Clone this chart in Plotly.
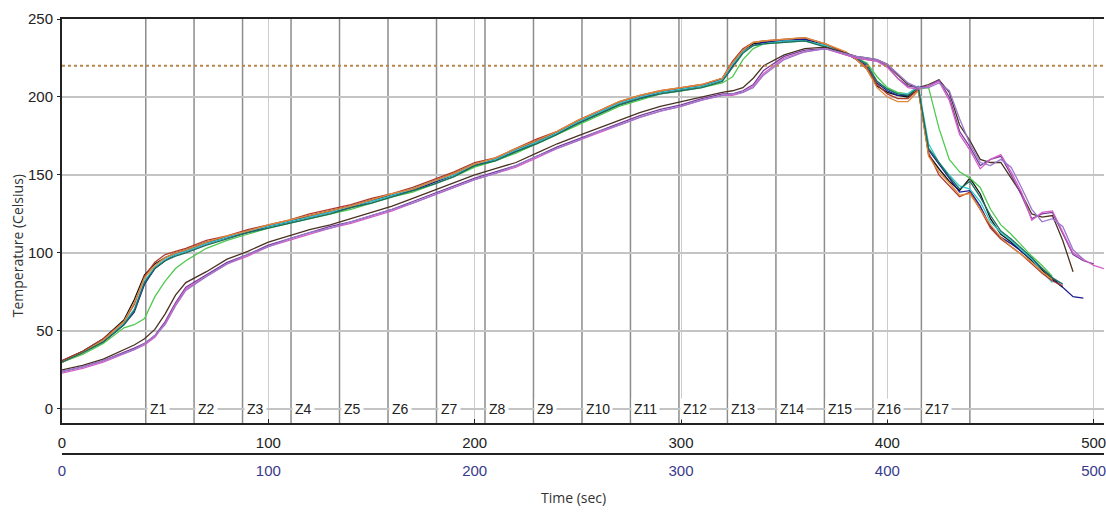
import plotly.graph_objects as go

# ---------------- data ----------------
time_s = [0, 10, 20, 30, 35, 40, 45, 50, 55, 60, 70, 80, 90, 100, 110, 120, 130, 140, 150, 160,
          170, 180, 190, 200, 210, 220, 230, 240, 250, 260, 270, 280, 290, 300, 310, 320, 325, 330,
          335, 340, 350, 360, 370, 380, 385, 390, 395, 400, 405, 410, 415, 420, 425, 430, 435, 440,
          445, 450, 455, 460, 465, 470, 475, 480, 485, 490, 495, 500, 505]

tc_black = [31, 37, 45, 57, 70, 86, 93, 97, 100, 102, 107, 110, 114, 117, 120, 124, 127, 130, 134, 137,
            141, 146, 151, 157, 160, 166, 172, 177, 184, 190, 196, 200, 203, 205, 207, 212, 222, 230,
            234, 235, 236, 237, 233, 228, 224, 218, 207, 203, 201, 200, 205, 163, 154, 146, 140, 148,
            138, 122, 112, 107, 101, 95, 89, 83, 78, None, None, None, None]
tc_navy = [30, 36, 43, 54, 62, 80, 90, 95, 99, 101, 106, 110, 113, 117, 120, 123, 126, 129, 133, 137,
           140, 145, 150, 156, 160, 165, 171, 177, 183, 189, 195, 199, 203, 205, 207, 211, 220, 229,
           233, 235, 236, 237, 233, 228, 225, 220, 209, 204, 201, 201, 206, 166, 157, 148, 139, 140,
           130, 117, 110, 106, 101, 96, 90, 84, 78, 72, 71, None, None]
tc_green = [30, 35, 42, 52, 54, 58, 72, 82, 90, 95, 103, 108, 112, 116, 119, 122, 125, 128, 132, 136,
            139, 144, 149, 155, 159, 164, 170, 176, 182, 188, 194, 198, 202, 204, 206, 209, 213, 224,
            231, 234, 235, 236, 233, 228, 225, 222, 213, 206, 203, 202, 205, 206, 180, 160, 152, 148,
            142, 128, 118, 112, 105, 98, 92, 85, None, None, None, None, None]
tc_cyan = [30, 36, 44, 55, 64, 82, 91, 96, 99, 101, 106, 110, 114, 117, 120, 123, 126, 130, 133, 137,
           141, 146, 150, 157, 160, 166, 171, 177, 184, 190, 196, 200, 203, 205, 207, 211, 221, 229,
           233, 234, 236, 236, 233, 228, 225, 221, 210, 205, 202, 202, 207, 170, 158, 150, 143, 141,
           133, 120, 113, 108, 102, 96, 88, 81, None, None, None, None, None]
tc_red = [31, 37, 45, 56, 67, 85, 94, 99, 101, 103, 108, 111, 115, 118, 121, 125, 128, 131, 135, 138,
          142, 147, 152, 158, 161, 167, 173, 178, 185, 191, 197, 201, 204, 206, 208, 212, 223, 231,
          235, 236, 237, 238, 234, 228, 224, 219, 208, 202, 199, 199, 205, 164, 150, 143, 136, 139,
          128, 116, 109, 104, 99, 93, 87, 82, 79, None, None, None, None]
tc_orange = [30, 36, 44, 56, 68, 84, 92, 97, 100, 102, 107, 111, 114, 118, 121, 124, 127, 130, 134, 138,
             141, 146, 151, 157, 161, 167, 172, 178, 185, 191, 197, 201, 204, 206, 208, 212, 222, 230,
             235, 236, 237, 238, 234, 229, 224, 218, 206, 200, 197, 197, 204, 162, 152, 145, 137, 138,
             128, 118, 110, 104, 99, 94, 88, 83, None, None, None, None, None]
tc_teal = [30, 36, 43, 54, 63, 81, 90, 95, 98, 100, 105, 109, 113, 116, 119, 122, 125, 129, 132, 136,
           140, 144, 149, 156, 159, 165, 170, 176, 183, 189, 195, 199, 202, 204, 206, 210, 219, 228,
           233, 234, 235, 236, 232, 228, 225, 221, 210, 205, 202, 201, 206, 167, 158, 149, 141, 146,
           136, 124, 114, 109, 103, 97, 90, 84, 80, None, None, None, None]
tc_brown = [25, 28, 32, 38, 41, 45, 51, 61, 73, 81, 88, 96, 101, 107, 111, 115, 118, 122, 126, 130,
            135, 140, 145, 150, 154, 158, 164, 170, 175, 180, 185, 190, 194, 197, 200, 203, 204, 206,
            212, 220, 227, 231, 232, 228, 226, 225, 224, 221, 214, 208, 206, 208, 211, 203, 182, 172,
            160, 158, 158, 148, 138, 125, 123, 124, 108, 88, None, None, None]
tc_purple = [24, 27, 31, 36, 39, 42, 47, 56, 68, 78, 86, 94, 99, 105, 109, 113, 117, 120, 124, 128,
             133, 138, 143, 148, 152, 156, 162, 168, 173, 178, 183, 188, 192, 195, 199, 202, 202, 204,
             208, 217, 226, 230, 231, 227, 225, 224, 223, 220, 212, 207, 206, 207, 211, 200, 178, 168,
             156, 160, 162, 150, 137, 122, 125, 126, 112, 99, 95, 93, None]
tc_magenta = [23, 26, 30, 35, 38, 41, 46, 55, 67, 77, 85, 93, 98, 104, 108, 112, 116, 119, 123, 127,
              132, 137, 142, 147, 151, 155, 161, 167, 172, 177, 182, 187, 191, 194, 198, 201, 201, 203,
              207, 215, 225, 229, 231, 227, 225, 224, 223, 219, 212, 206, 205, 207, 210, 198, 176, 166,
              154, 160, 163, 152, 139, 121, 126, 127, 114, 100, 96, 92, 90]
tc_violet = [24, 27, 31, 36, 38, 42, 47, 54, 66, 76, 85, 93, 99, 104, 109, 113, 116, 120, 124, 128,
             132, 137, 142, 147, 151, 156, 162, 167, 172, 178, 182, 187, 191, 194, 198, 201, 202, 203,
             206, 214, 224, 229, 231, 228, 226, 225, 224, 221, 215, 209, 206, 206, 209, 204, 186, 170,
             158, 156, 160, 155, 142, 128, 120, 122, 117, 102, 96, None, None]

series = [
    ("TC1", tc_black, "#111111"),
    ("TC2", tc_navy, "#1c1c8f"),
    ("TC3", tc_green, "#4fc94f"),
    ("TC4", tc_cyan, "#36c8d0"),
    ("TC5", tc_red, "#b0392c"),
    ("TC6", tc_orange, "#e0883a"),
    ("TC7", tc_teal, "#1d6e5c"),
    ("TC8", tc_brown, "#4a3222"),
    ("TC9", tc_purple, "#7a3f9c"),
    ("TC10", tc_magenta, "#d35fc6"),
    ("TC11", tc_violet, "#9c78cc"),
]

zone_bounds = [40.6, 64.0, 87.5, 111.0, 134.5, 158.0, 181.5, 205.0, 228.5, 252.0,
               275.5, 299.0, 322.5, 346.0, 369.5, 393.0, 416.5, 440.0]
zone_labels = ["Z1", "Z2", "Z3", "Z4", "Z5", "Z6", "Z7", "Z8", "Z9", "Z10",
               "Z11", "Z12", "Z13", "Z14", "Z15", "Z16", "Z17"]
limit_temp = 220
x_ticks = [0, 100, 200, 300, 400, 500]
y_ticks = [0, 50, 100, 150, 200, 250]

# ---------------- figure ----------------
NUM = "Liberation Sans, Arial, sans-serif"
UI = "Open Sans, Noto Sans, DejaVu Sans, sans-serif"

fig = go.Figure()
for name, vals, col in series:
    fig.add_trace(go.Scatter(x=time_s, y=vals, mode="lines", name=name,
                             line=dict(color=col, width=1.3), showlegend=False,
                             connectgaps=False))

# zone boundary lines
for zb in zone_bounds:
    fig.add_shape(type="line", xref="x", yref="paper", x0=zb, x1=zb, y0=0.0713, y1=1,
                  line=dict(color="#8c8c8c", width=1.5), layer="below")

# limit line
fig.add_shape(type="line", xref="paper", yref="y", x0=0, x1=1, y0=limit_temp, y1=limit_temp,
              line=dict(color="#b8864a", width=2, dash="dot"), layer="above")

# zone labels
for zb, lab in zip(zone_bounds, zone_labels):
    fig.add_annotation(x=zb, y=0, xref="x", yref="y", text=lab, showarrow=False,
                       xanchor="left", yanchor="middle", bgcolor="white", borderpad=2,
                       font=dict(family=NUM, size=14, color="#222222"), xshift=1)

# axis titles
fig.add_annotation(x=0.491, y=-0.100, xref="paper", yref="paper", text="Time (sec)",
                   showarrow=False, font=dict(family=UI, size=14, color="#333333"),
                   xanchor="center", yanchor="middle")
fig.add_annotation(x=-0.043, y=0.478, xref="paper", yref="paper", text="Temperature (Celsius)",
                   showarrow=False, textangle=-90, font=dict(family=UI, size=14, color="#333333"),
                   xanchor="center", yanchor="middle")

fig.update_layout(
    width=1106, height=512,
    margin=dict(l=62, r=0, t=19, b=58),
    paper_bgcolor="white", plot_bgcolor="white",
    xaxis=dict(range=[0, 505], tickvals=x_ticks, showgrid=True, gridcolor="#cccccc", gridwidth=1,
               showline=True, linecolor="#222222", linewidth=2, mirror=True,
               ticks="inside", ticklen=4, tickcolor="#222222", zeroline=False,
               tickfont=dict(family=NUM, size=15, color="#222222"), ticklabelstandoff=5,
               ticklabeloverflow="allow", anchor="y"),
    xaxis2=dict(range=[0, 505], tickvals=x_ticks, overlaying="x", anchor="free", position=0,
                side="bottom", showgrid=False, showline=True, linecolor="#222222", linewidth=2,
                ticks="", zeroline=False, ticklabeloverflow="allow",
                tickfont=dict(family=NUM, size=15, color="#3a3a8c"), ticklabelstandoff=3),
    yaxis=dict(range=[-9, 250], domain=[0.0713, 1], tickvals=y_ticks, showgrid=True,
               gridcolor="#c4c4c4", gridwidth=1.5, showline=True, linecolor="#222222", linewidth=2,
               ticks="outside", ticklen=3, tickcolor="#222222", zeroline=False,
               tickfont=dict(family=NUM, size=15, color="#222222"), ticklabelstandoff=1),
)

# invisible trace so the second axis renders
fig.add_trace(go.Scatter(x=[0, 505], y=[None, None], xaxis="x2", yaxis="y", mode="lines",
                         showlegend=False, hoverinfo="skip"))

fig.write_html("out.html")
